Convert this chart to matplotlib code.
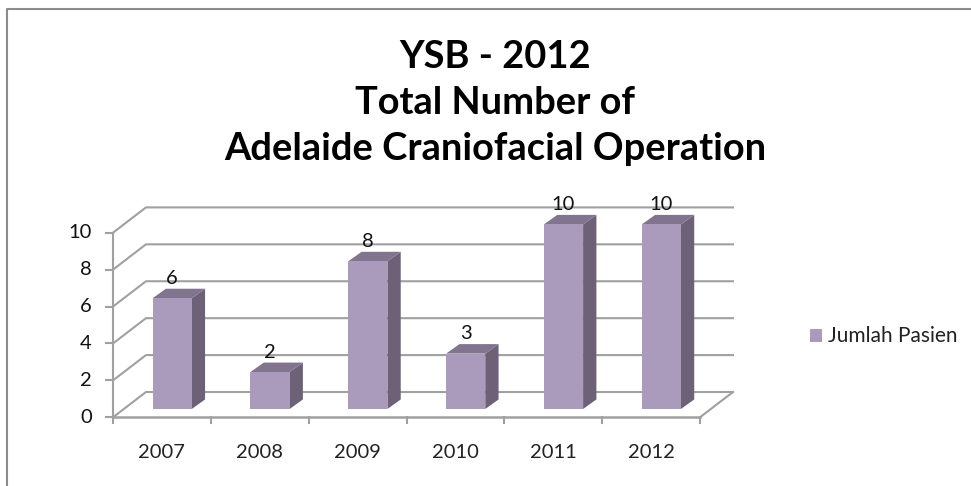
import matplotlib
matplotlib.use('Agg')
import matplotlib.pyplot as plt
from matplotlib.patches import Polygon, Rectangle

years = ['2007', '2008', '2009', '2010', '2011', '2012']
jumlah_pasien = [6, 2, 8, 3, 10, 10]
yticks = [0, 2, 4, 6, 8, 10]
title = 'YSB - 2012\nTotal Number of\nAdelaide Craniofacial Operation'
series_name = 'Jumlah Pasien'

W, H = 971, 486
# plot box in pixels
left, right, top, bottom = 113, 700, 232.7, 417.3

plt.rcParams['font.family'] = ['Lato', 'DejaVu Sans']

fig = plt.figure(figsize=(W / 100, H / 100), dpi=100)
ax = fig.add_axes([left / W, 1 - bottom / H, (right - left) / W, (bottom - top) / H])
ax.set_xlim(0, len(years))
ax.set_ylim(0, 10)
ax.axis('off')

# 3d offsets in data units
back_dx, back_dy = 0.337, 1.37
bar_dx, bar_dy = 0.105, 0.45
side_dx, side_dy = 0.136, 0.515
bar_w = 0.4

grid_c = '#a0a0a0'
# back wall gridlines and side wall
for t in yticks:
    ax.plot([0, back_dx, len(years) + back_dx], [t, t + back_dy, t + back_dy],
            color=grid_c, lw=1.5, clip_on=False, zorder=1)
# floor
ax.plot([0, len(years)], [0, 0], color=grid_c, lw=1.8, clip_on=False, zorder=1)
ax.plot([len(years), len(years) + back_dx], [0, back_dy], color=grid_c, lw=1.5, clip_on=False, zorder=1)
ax.plot([0, 0], [0, 10], color=grid_c, lw=1.5, clip_on=False, zorder=1)

# ticks
for t in yticks:
    ax.plot([-0.07, 0], [t, t], color=grid_c, lw=1.5, clip_on=False, zorder=1)
    ax.text(-0.215, t, str(t), ha='right', va='center', fontsize=14.5, color='#111111')
for i in range(len(years) + 1):
    ax.plot([i, i], [0, -0.33], color=grid_c, lw=1.5, clip_on=False, zorder=1)

# bars
for i, (yr, v) in enumerate(zip(years, jumlah_pasien)):
    x0 = i + 0.5 - bar_w / 2 + bar_dx
    x1 = x0 + bar_w
    y0 = bar_dy
    y1 = v + bar_dy
    ax.add_patch(Polygon([(x1, y0), (x1 + side_dx, y0 + side_dy), (x1 + side_dx, y1 + side_dy), (x1, y1)],
                         facecolor='#6d6178', edgecolor='none', clip_on=False, zorder=2))
    ax.add_patch(Polygon([(x0, y1), (x0 + side_dx, y1 + side_dy), (x1 + side_dx, y1 + side_dy), (x1, y1)],
                         facecolor='#80748f', edgecolor='none', clip_on=False, zorder=2))
    ax.add_patch(Rectangle((x0, y0), bar_w, v, facecolor='#aa9bbd', edgecolor='none', clip_on=False, zorder=3))
    ax.text((x0 + x1) / 2, y1 + side_dy + 0.25, str(v), ha='center', va='baseline', fontsize=14.5,
            color='#111111', zorder=4)
    ax.text(i + 0.5, -1.92, yr, ha='center', va='center', fontsize=14.5, color='#222222')

# title
fig.text(495 / W, 1 - 103 / H, title, ha='center', va='center', fontsize=27.4, fontweight='bold',
         color='black', linespacing=1.437)

# legend
fig.patches.append(Rectangle((810 / W, 1 - 342 / H), 12 / W, 13 / H, transform=fig.transFigure,
                             facecolor='#aa9bbd', edgecolor='none'))
fig.text(828 / W, 1 - 336 / H, series_name, ha='left', va='center', fontsize=15, color='#222222')

# chart border, only top and left visible in the crop
fig.add_artist(plt.Line2D([7 / W, 7 / W, 1], [0, 1 - 9 / H, 1 - 9 / H], color='#8c8c8c', lw=1.5))

fig.savefig('out.png', dpi=100)
